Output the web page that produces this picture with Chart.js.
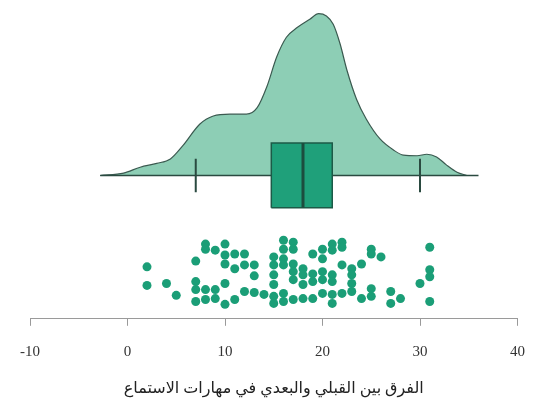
<!DOCTYPE html>
<html>
<head>
<meta charset="utf-8">
<script src="https://cdn.jsdelivr.net/npm/chart.js@4"></script>
<style>
  html, body { margin: 0; padding: 0; background: #fff; }
  #wrap { width: 535px; height: 402px; }
</style>
</head>
<body>
<div id="wrap"><canvas id="rain" width="535" height="402"></canvas></div>
<script>
// Raincloud: density + box + jittered points of the listening-skills gain
const xTicks = [-10, 0, 10, 20, 30, 40];
const axisTitle = 'الفرق بين القبلي والبعدي في مهارات الاستماع';

// density curve (x = score difference, y = density)
const densityX = [-2.8, -0.4, 1.3, 3.0, 4.4, 5.7, 7.4, 8.8, 10.5, 12.2, 13.3, 14.3, 15.3, 16.3, 17.4, 18.7,
                  19.6, 20.4, 21.1, 21.8, 22.5, 23.5, 24.5, 25.9, 27.3, 28.3, 29.7, 30.7, 31.7, 32.7, 33.8, 34.8];
const densityY = [0, 0.0008, 0.0028, 0.0041, 0.0056, 0.0102, 0.0174, 0.0202, 0.0208, 0.0208, 0.023, 0.0302,
                  0.0402, 0.0469, 0.0502, 0.053, 0.0549, 0.0541, 0.0513, 0.0447, 0.0358, 0.0258, 0.0191, 0.0124,
                  0.0086, 0.0069, 0.0067, 0.0072, 0.0063, 0.0036, 0.0011, 0];
const densityRange = [-2.8, 36];

// box plot summary
const whiskerLow = 7;
const quartile1 = 14.75;
const medianValue = 18;
const quartile3 = 21;
const whiskerHigh = 30;

// raw differences and their vertical jitter (-1 .. 1)
const pointValues = [2, 2, 4, 5, 7, 7, 7, 7, 8, 8, 8, 8, 9, 9, 9, 10, 10, 10, 10, 10, 11, 11, 11, 12, 12, 12,
                     13, 13, 13, 14, 15, 15, 15, 15, 15, 15, 16, 16, 16, 16, 16, 16, 17, 17, 17, 17, 17, 17,
                     18, 18, 18, 18, 19, 19, 19, 19, 20, 20, 20, 20, 20, 21, 21, 21, 21, 21, 21, 22, 22, 22, 22,
                     23, 23, 23, 23, 24, 24, 25, 25, 25, 25, 26, 27, 27, 28, 30, 31, 31, 31, 31];
const pointJitter = [0.17, -0.41, -0.35, -0.72, 0.35, -0.29, -0.54, -0.91, 0.88, 0.72, -0.54, -0.85, 0.69, -0.54, -0.82,
                     0.88, 0.54, 0.26, -0.35, -1.0, 0.57, 0.11, -0.85, 0.57, 0.23, -0.6,
                     0.23, -0.11, -0.63, -0.69, 0.48, 0.23, -0.08, -0.38, -0.75, -0.97, 1.0, 0.72, 0.42, 0.23, -0.66, -0.91,
                     0.94, 0.72, 0.26, 0.02, -0.23, -0.85, 0.11, -0.08, -0.38, -0.82, 0.57, -0.05, -0.29, -0.82,
                     0.72, 0.42, 0.02, -0.23, -0.66, 0.88, 0.69, -0.08, -0.29, -0.69, -0.97, 0.94, 0.78, 0.23, -0.66,
                     0.11, -0.08, -0.35, -0.6, 0.26, -0.82, 0.72, 0.57, -0.51, -0.75, 0.48, -0.6, -0.97, -0.82,
                     -0.35, 0.78, 0.08, -0.14, -0.91];

// vertical layout in y-axis units (axis runs 0..10)
const BASE = 4.56;       // density baseline / box centre
const DENS_SCALE = 93.75;
const BOX_HALF = 1.03;
const CAP_HALF = 0.53;
const DOT_MID = 1.48;
const DOT_HALF = 1.02;

const green = '#1b9e77';
const dark = '#2a4a40';

const densityPts = densityX.map((x, i) => ({ x: x, y: BASE + densityY[i] * DENS_SCALE }));
const dotPts = pointValues.map((v, i) => ({ x: v, y: DOT_MID + pointJitter[i] * DOT_HALF }));
const boxTop = BASE + BOX_HALF, boxBot = BASE - BOX_HALF;

const seg = (pts, color, width) => ({
    type: 'line', data: pts, borderColor: color, borderWidth: width,
    pointRadius: 0, fill: false, tension: 0
});

const datasets = [
    {
        type: 'scatter', data: dotPts, backgroundColor: green, borderWidth: 0,
        pointRadius: 4.5, pointHoverRadius: 4.5
    },
    seg([{ x: medianValue, y: boxBot }, { x: medianValue, y: boxTop }], '#1c4d3e', 3),
    seg([{ x: quartile1, y: boxBot }, { x: quartile3, y: boxBot }, { x: quartile3, y: boxTop },
         { x: quartile1, y: boxTop }, { x: quartile1, y: boxBot }], '#1c5a47', 1.5),
    {
        type: 'line', data: [{ x: quartile1, y: boxTop }, { x: quartile3, y: boxTop }],
        borderWidth: 0, pointRadius: 0, backgroundColor: '#1fa07a', fill: { value: boxBot }
    },
    seg([{ x: whiskerLow, y: BASE - CAP_HALF }, { x: whiskerLow, y: BASE + CAP_HALF }], dark, 2),
    seg([{ x: whiskerHigh, y: BASE - CAP_HALF }, { x: whiskerHigh, y: BASE + CAP_HALF }], dark, 2),
    seg([{ x: densityRange[0], y: BASE }, { x: densityRange[1], y: BASE }], dark, 1.5),
    {
        type: 'line', data: densityPts, borderColor: '#3b5a50', borderWidth: 1.2,
        backgroundColor: '#8dceb5', pointRadius: 0, cubicInterpolationMode: 'monotone',
        fill: { value: BASE }
    }
];

new Chart(document.getElementById('rain'), {
    type: 'scatter',
    data: { datasets: datasets },
    options: {
        responsive: false,
        animation: false,
        events: [],
        layout: { padding: { left: 30, right: 17.5, top: 0, bottom: 0 } },
        plugins: { legend: { display: false }, tooltip: { enabled: false } },
        scales: {
            x: {
                type: 'linear', min: xTicks[0], max: xTicks[xTicks.length - 1],
                afterBuildTicks: axis => { axis.ticks = xTicks.map(v => ({ value: v })); },
                // keep the plot width fixed by the layout padding only
                afterFit: axis => { axis.paddingLeft = 0; axis.paddingRight = 0; },
                grid: { display: true, drawOnChartArea: false, drawTicks: true, tickLength: 7, color: '#9a9a9a' },
                border: { display: true, color: '#9a9a9a', width: 1 },
                ticks: {
                    color: '#333', padding: 17,
                    font: { family: "'Liberation Serif', 'Times New Roman', serif", size: 15 }
                },
                title: {
                    display: true, text: axisTitle, color: '#222',
                    padding: { top: 1, bottom: 4 },
                    font: { family: "'Liberation Serif', 'DejaVu Sans', serif", size: 16 }
                }
            },
            y: { type: 'linear', min: 0, max: 10, display: false }
        }
    }
});
</script>
</body>
</html>
